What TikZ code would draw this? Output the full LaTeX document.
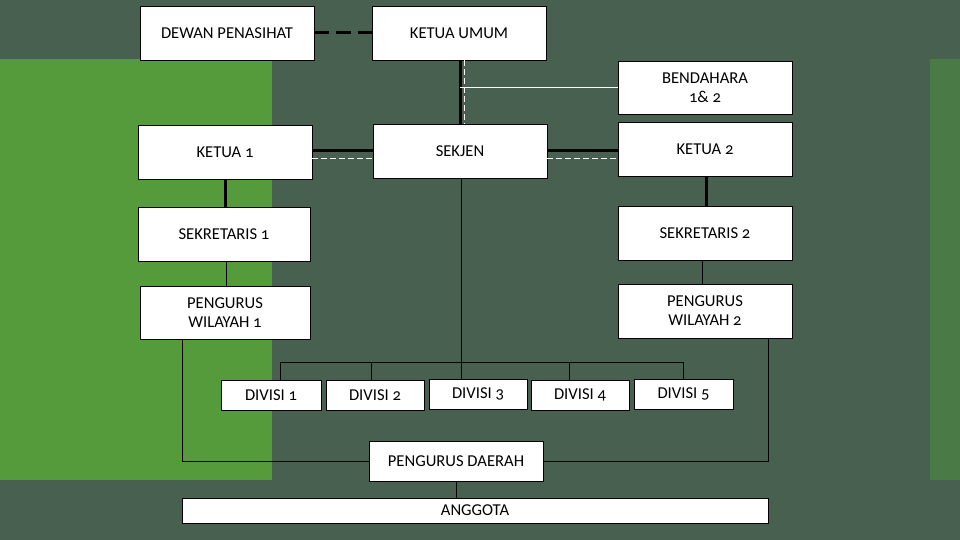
\documentclass[tikz,border=0pt]{standalone}
\usepackage{fontspec}
\setmainfont[Numbers=OldStyle]{Carlito}
\usetikzlibrary{calc}
\definecolor{bgc}{RGB}{71,96,80}
\definecolor{gleft}{RGB}{85,154,59}
\definecolor{gright}{RGB}{74,123,71}
\tikzset{
  box/.style={draw=black, line width=0.8pt, fill=white, minimum width=#1, align=center, inner sep=0pt, font=\fontsize{16.6}{19}\selectfont},
  box/.default=174pt,
  thick3/.style={draw=black, line width=3pt},
  thin1/.style={draw=black, line width=0.8pt},
  wdash/.style={draw=white, line width=0.9pt, dash pattern=on 6pt off 3pt},
}
\begin{document}
\begin{tikzpicture}[x=1pt,y=-1pt]
\useasboundingbox (0,0) rectangle (960,540);
\fill[bgc] (0,0) rectangle (960,540);
\fill[gleft] (0,59) rectangle (272,480);
\fill[gright] (930,59) rectangle (960,480);

\node[box, minimum height=54pt] (dp) at (227,33) {DEWAN PENASIHAT};
\node[box, minimum height=54pt] (ku) at (459,33) {KETUA UMUM};
\node[box, minimum height=53pt] (bd) at (705,87.5) {BENDAHARA\\1\& 2};
\node[box, minimum height=54pt] (k1) at (225,152) {KETUA 1};
\node[box, minimum height=54pt] (sj) at (460,151) {SEKJEN};
\node[box, minimum height=54pt] (k2) at (705,149) {KETUA 2};
\node[box=172pt, minimum height=54pt] (s1) at (224,234) {SEKRETARIS 1};
\node[box, minimum height=54pt] (s2) at (705,233) {SEKRETARIS 2};
\node[box=170pt, minimum height=53pt] (pw1) at (225,312.5) {PENGURUS\\WILAYAH 1};
\node[box, minimum height=54pt] (pw2) at (705,311) {PENGURUS\\WILAYAH 2};
\node[box=100pt, minimum height=30pt] (d1) at (271,395) {DIVISI 1};
\node[box=98pt, minimum height=30pt] (d2) at (375,395) {DIVISI 2};
\node[box=98pt, minimum height=30pt] (d3) at (478,394) {DIVISI 3};
\node[box=98pt, minimum height=30pt] (d4) at (580,395) {DIVISI 4};
\node[box=99pt, minimum height=30pt] (d5) at (683.5,394) {DIVISI 5};
\node[box, minimum height=40pt] (pd) at (456,461) {PENGURUS DAERAH};
\node[box=586pt, minimum height=25pt] (ag) at (475,510.5) {ANGGOTA};

% top dashed link
\draw[draw=black, line width=3pt, dash pattern=on 15pt off 7pt] (dp.east) -- (ku.west);

% KETUA UMUM - SEKJEN
\draw[thick3] ([xshift=1pt]ku.south) -- (sj.north);
\draw[wdash] ([xshift=5pt]ku.south) -- ([xshift=4pt]sj.north);
\coordinate (bj) at ([xshift=1pt]ku.south |- bd.west);
\draw[draw=white, line width=0.9pt] (bj) -- (bd.west);

% KETUA 1 - SEKJEN - KETUA 2
\draw[thick3] ([yshift=1pt]k1.east) -- ([yshift=1pt]k1.east -| sj.west);
\draw[wdash] ([yshift=-6pt]k1.east) -- ([yshift=-6pt]k1.east -| sj.west);
\draw[thick3] (sj.east) -- (sj.east -| k2.west);
\draw[wdash] ([yshift=-7pt]sj.east) -- ([yshift=-7pt]sj.east -| k2.west);

% ketua to sekretaris
\draw[thick3] (k1.south) -- (k1.south |- s1.north);
\draw[thick3] ([xshift=1pt]k2.south) -- ([xshift=1pt]k2.south |- s2.north);

% sekretaris to pengurus wilayah
\draw[thin1] ([xshift=2pt]s1.south) -- ([xshift=2pt]s1.south |- pw1.north);
\draw[thin1] ([xshift=-3pt]s2.south) -- ([xshift=-3pt]s2.south |- pw2.north);

% SEKJEN to divisions
\draw[thin1] ([xshift=1pt]sj.south) -- ([xshift=1pt]sj.south |- d3.north);
\coordinate (bl) at (280,362);
\coordinate (br) at (683.5,362);
\draw[thin1] (bl) -- (br);
\draw[thin1] (d1.north -| bl) -- (bl);
\draw[thin1] ([xshift=-4pt]d2.north) -- ([xshift=-4pt]d2.north |- bl);
\draw[thin1] ([xshift=-11pt]d4.north) -- ([xshift=-11pt]d4.north |- bl);
\draw[thin1] (d5.north) -- (br);

% pengurus wilayah to pengurus daerah
\draw[thin1] ([xshift=-43pt]pw1.south) |- (pd.west);
\draw[thin1] ([xshift=63pt]pw2.south) |- (pd.east);

% pengurus daerah to anggota
\draw[thin1] (pd.south) -- (pd.south |- ag.north);
\end{tikzpicture}
\end{document}
